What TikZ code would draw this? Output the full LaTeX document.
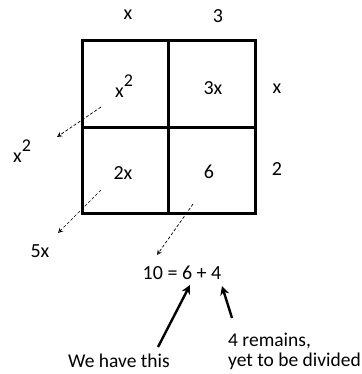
\documentclass[tikz,border=0pt]{standalone}
\usepackage{fontspec}
\setmainfont{Carlito}
\usetikzlibrary{arrows.meta}
\newcommand{\sqr}{x\raisebox{0.55em}{\fontsize{18}{18}\selectfont 2}}
\begin{document}
\begin{tikzpicture}[x=1pt,y=-1pt,
  lbl/.style={font=\fontsize{20}{22}\selectfont, inner sep=0pt},
  note/.style={font=\fontsize{19.5}{22}\selectfont, inner sep=0pt, anchor=west},
  grid/.style={line width=3pt},
  dasharrow/.style={densely dashed, line width=0.7pt, -{Stealth[length=5pt,width=5pt,open]}},
  bigarrow/.style={line width=2.4pt, -{Stealth[length=9pt,width=9pt]}}]
\useasboundingbox (0,0) rectangle (361,374);
% grid
\draw[grid] (82,41) rectangle (255,213);
\draw[grid] (168,41) -- (168,213);
\draw[grid] (82,128) -- (255,128);
% labels
\node[lbl] (tx) at (128,15) {x};
\node[lbl] (t3) at (218,16) {3};
\node[lbl] (rx) at (277,89) {x};
\node[lbl] (r2) at (277,169) {2};
\node[lbl] (c11) at (124,86) {\sqr};
\node[lbl] (c12) at (213,88) {3x};
\node[lbl] (c21) at (123,173) {2x};
\node[lbl] (c22) at (209,172) {6};
\node[lbl] (lx2) at (22,151) {\sqr};
\node[lbl] (l5x) at (40,251) {5x};
\node[lbl] (eq) at (182,273) {10 = 6 + 4};
\node[note] (n1) at (68,361) {We have this};
\node[note] (n2) at (228,341) {4 remains,};
\node[note] (n3) at (228,361) {yet to be divided};
% dashed arrows
\coordinate (s1) at (101,107);
\coordinate (e1) at (57,137);
\coordinate (s2) at (101,190);
\coordinate (e2) at (58,233);
\coordinate (s3) at (193,204);
\coordinate (e3) at (157,255);
\draw[dasharrow] (s1) -- (e1);
\draw[dasharrow] (s2) -- (e2);
\draw[dasharrow] (s3) -- (e3);
% solid arrows
\coordinate (a1) at (190,285);
\coordinate (a2) at (222,286);
\draw[bigarrow] (158,347) -- (a1);
\draw[bigarrow] (232,318) -- (a2);
\end{tikzpicture}
\end{document}
